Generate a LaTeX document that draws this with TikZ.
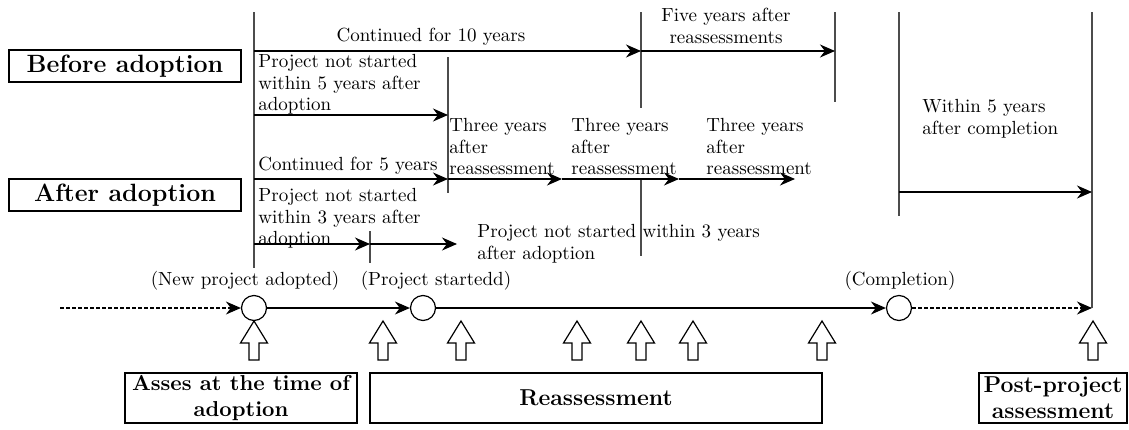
\documentclass[tikz,border=0pt]{standalone}
\usetikzlibrary{arrows.meta}

\begin{document}
\begin{tikzpicture}[x=0.5pt,y=-0.5pt,
  >={Stealth[length=7.5pt,width=6.5pt]},
  tick/.style={draw=black!70,line width=0.6pt},
  span/.style={->,line width=0.6pt},
  dotted span/.style={span,dash pattern=on 2pt off 1pt},
  note/.style={font=\fontsize{9.5}{10.75}\selectfont,inner sep=0pt,align=left},
  headbox/.style={draw,line width=0.6pt,inner sep=0pt,align=center,
    font=\fontsize{11.5}{13}\selectfont\bfseries},
  stagebox/.style={headbox,font=\fontsize{12.5}{14}\selectfont\bfseries,
    minimum width=116pt,minimum height=16pt},
  event/.style={circle,draw,line width=0.6pt,minimum size=12.5pt,inner sep=0pt}]

  \useasboundingbox (0,0) rectangle (1129,429);

  % stages
  \node[stagebox] (before) at (125,66) {Before adoption};
  \node[stagebox] (after) at (125,195) {After adoption};

  % time line
  \coordinate (lead) at (60,308);
  \coordinate (post) at (1092,308);
  \node[event] (adopt) at (254,308) {};
  \node[event] (start) at (423,308) {};
  \node[event] (done) at (899,308) {};
  \draw[dotted span] (lead) -- (adopt);
  \draw[span] (adopt) -- (start);
  \draw[span] (start) -- (done);
  \draw[dotted span] (done) -- (post);
  \node[note,anchor=base] (adoptlab) at (245,285) {(New project adopted)};
  \node[note,anchor=base] (startlab) at (436,285) {(Project startedd)};
  \node[note,anchor=base] (donelab) at (900,285) {(Completion)};

  % ticks
  \coordinate (a0) at (254,12);   \coordinate (a1) at (254,268);
  \coordinate (b0) at (641,12);   \coordinate (b1) at (641,108);
  \coordinate (c0) at (835,12);   \coordinate (c1) at (835,102);
  \coordinate (d0) at (448,57);   \coordinate (d1) at (448,193);
  \coordinate (e0) at (641,179);  \coordinate (e1) at (641,256);
  \coordinate (f0) at (370,231);  \coordinate (f1) at (370,263);
  \coordinate (g0) at (899,12);   \coordinate (g1) at (899,216);
  \coordinate (h0) at (1092,12);
  \draw[tick] (a0) -- (a1);
  \draw[tick] (b0) -- (b1);
  \draw[tick] (c0) -- (c1);
  \draw[tick] (d0) -- (d1);
  \draw[tick] (e0) -- (e1);
  \draw[tick] (f0) -- (f1);
  \draw[tick] (g0) -- (g1);
  \draw[tick] (h0) -- (post);

  % periods
  \coordinate (r10) at (0,51);
  \coordinate (r5b) at (0,115);
  \coordinate (r5) at (0,179);
  \coordinate (rpost) at (0,192);
  \coordinate (r3) at (0,244);
  \coordinate (k1) at (562,179);
  \coordinate (k2) at (679,179);
  \coordinate (k3) at (795,179);
  \coordinate (m1) at (457,244);

  \draw[span] (r10 -| a0) -- (r10 -| b0);
  \draw[span] (r10 -| b0) -- (r10 -| c0);
  \draw[span] (r5b -| a0) -- (r5b -| d0);
  \draw[span] (r5 -| a0) -- (r5 -| d0);
  \draw[span] (r5 -| d0) -- (k1);
  \draw[span] (k1) -- (k2);
  \draw[span] (k2) -- (k3);
  \draw[span] (r3 -| a0) -- (r3 -| f0);
  \draw[span] (r3 -| f0) -- (m1);
  \draw[span] (rpost -| g0) -- (rpost -| post);

  \node[note,anchor=base] (ten) at (431,41) {Continued for 10 years};
  \node[note,anchor=north,align=center] (five) at (726,8) {Five years after\\reassessments};
  \node[note,anchor=north west] (late5) at (258,54) {Project not started\\within 5 years after\\adoption};
  \node[note,anchor=base west] (cont5) at (258,170) {Continued for 5 years};
  \node[note,anchor=north west] (three1) at (449,118) {Three years\\after\\reassessment};
  \node[note,anchor=north west] (three2) at (571,118) {Three years\\after\\reassessment};
  \node[note,anchor=north west] (three3) at (706,118) {Three years\\after\\reassessment};
  \node[note,anchor=north west] (late3) at (258,188) {Project not started\\within 3 years after\\adoption};
  \node[note,anchor=north west] (late3b) at (477,224) {Project not started within 3 years\\after adoption};
  \node[note,anchor=north west] (within) at (922,99) {Within 5 years\\after completion};

  % assessments
  \foreach \x in {254,383,461,577,641,693,822,1093}
    \draw[line width=0.6pt,fill=white] (\x,321) -- ++(13.5,22) -- ++(-8.5,0) -- ++(0,17)
      -- ++(-10,0) -- ++(0,-17) -- ++(-8.5,0) -- cycle;

  \node[headbox,minimum width=116pt,minimum height=25pt,
    font=\fontsize{10.8}{13}\selectfont\bfseries] (adoptbox) at (241,398) {Asses at the time of\\adoption};
  \node[headbox,minimum width=226pt,minimum height=25pt] (reassbox) at (596,398) {Reassessment};
  \node[headbox,minimum width=74pt,minimum height=25pt] (postbox) at (1053,398) {Post-project\\assessment};
\end{tikzpicture}
\end{document}
